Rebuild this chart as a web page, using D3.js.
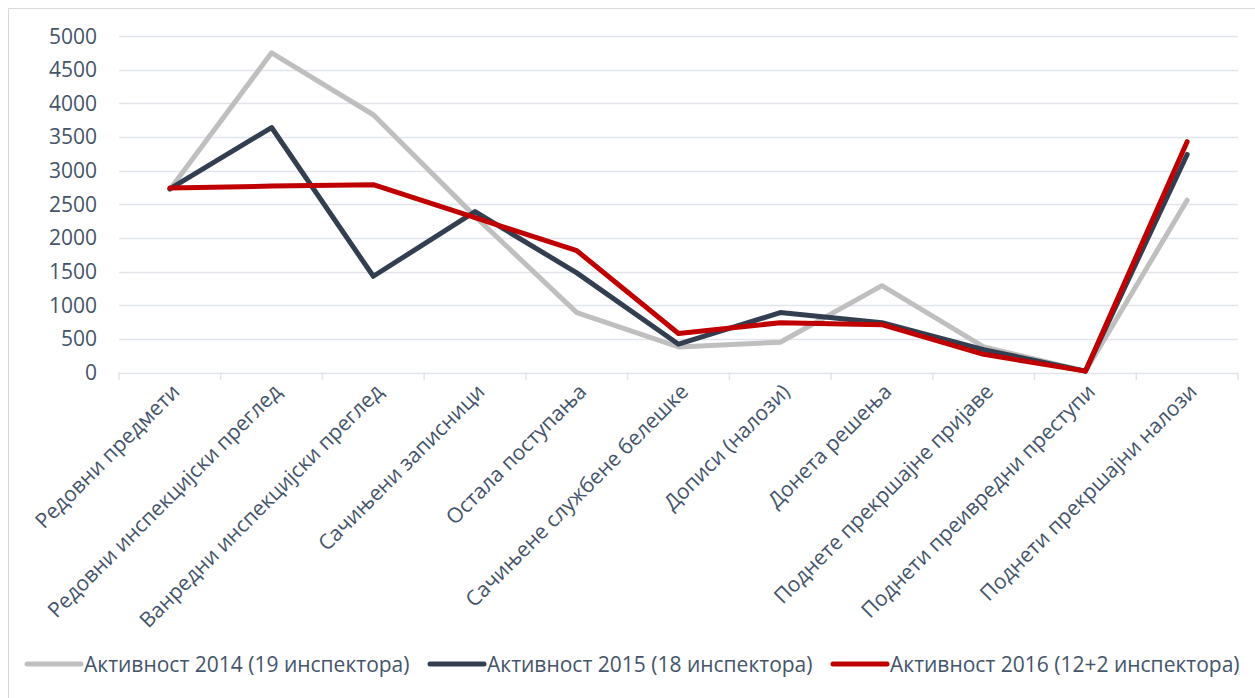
<!DOCTYPE html>
<html>
<head>
<meta charset="utf-8">
<script src="https://cdn.jsdelivr.net/npm/d3@7"></script>
<style>
  body { margin: 0; background: #fff; }
  svg { display: block; font-family: "Open Sans", sans-serif; }
</style>
</head>
<body>
<svg id="chart" width="1255" height="698"></svg>
<script>
// categories and series
var categories = [
  "Редовни предмети",
  "Редовни инспекцијски преглед",
  "Ванредни инспекцијски преглед",
  "Сачињени записници",
  "Остала поступања",
  "Сачињене службене белешке",
  "Дописи (налози)",
  "Донета решења",
  "Поднете прекршајне пријаве",
  "Поднети преивредни преступи",
  "Поднети прекршајни налози"
];
var act2014 = [2720, 4750, 3830, 2320, 890, 380, 450, 1290, 380, 20, 2560];
var act2015 = [2730, 3640, 1430, 2390, 1480, 420, 890, 740, 340, 20, 3240];
var act2016 = [2740, 2770, 2790, 2300, 1810, 580, 740, 710, 270, 20, 3430];
var seriesNames = [
  "Активност 2014 (19 инспектора)",
  "Активност 2015 (18 инспектора)",
  "Активност 2016 (12+2 инспектора)"
];
var yTicks = [0, 500, 1000, 1500, 2000, 2500, 3000, 3500, 4000, 4500, 5000];

var colors = ["#BFBFBF", "#333F50", "#C00000"];
var textColor = "#44546A";
var gridColor = "#E1E5EB";

var svg = d3.select("#chart");

// chart frame
svg.append("path")
  .attr("d", "M8.5,698 V8.5 H1255")
  .attr("fill", "none")
  .attr("stroke", "#D9D9D9")
  .attr("stroke-width", 1);

var x = d3.scaleBand().domain(categories).range([119, 1238]);
var y = d3.scaleLinear().domain([0, 5000]).range([372.5, 36]);

// gridlines
svg.append("g").selectAll("line")
  .data(yTicks)
  .enter().append("line")
  .attr("x1", 119).attr("x2", 1238)
  .attr("y1", function (d) { return Math.round(y(d)) + 0.5; })
  .attr("y2", function (d) { return Math.round(y(d)) + 0.5; })
  .attr("stroke", gridColor)
  .attr("stroke-width", 1.5);

// y labels
svg.append("g").selectAll("text")
  .data(yTicks)
  .enter().append("text")
  .attr("x", 97)
  .attr("y", function (d) { return y(d) + 7.5; })
  .attr("text-anchor", "end")
  .attr("font-size", 21)
  .attr("fill", textColor)
  .text(function (d) { return d; });

// x tick marks at category boundaries
var bounds = categories.map(function (c) { return x(c); }).concat([x.range()[1]]);
svg.append("g").selectAll("line")
  .data(bounds)
  .enter().append("line")
  .attr("x1", function (d) { return d; })
  .attr("x2", function (d) { return d; })
  .attr("y1", 372.5).attr("y2", 380)
  .attr("stroke", gridColor)
  .attr("stroke-width", 1.5);

// x labels, rotated
svg.append("g").selectAll("text")
  .data(categories)
  .enter().append("text")
  .attr("transform", function (d) {
    var cx = x(d) + x.bandwidth() / 2 + 11;
    return "translate(" + cx + ",393) rotate(-45)";
  })
  .attr("text-anchor", "end")
  .attr("font-size", 21)
  .attr("fill", textColor)
  .text(function (d) { return d; });

// lines
var line = d3.line()
  .x(function (d, i) { return x(categories[i]) + x.bandwidth() / 2; })
  .y(function (d) { return y(d); });

var allSeries = [act2014, act2015, act2016];
svg.append("g").selectAll("path")
  .data(allSeries)
  .enter().append("path")
  .attr("d", line)
  .attr("fill", "none")
  .attr("stroke", function (d, i) { return colors[i]; })
  .attr("stroke-width", 5)
  .attr("stroke-linejoin", "round")
  .attr("stroke-linecap", "round");

// legend
var legendX = [27, 430, 833];
var leg = svg.append("g").selectAll("g")
  .data(seriesNames)
  .enter().append("g")
  .attr("transform", function (d, i) { return "translate(" + legendX[i] + ",664)"; });

leg.append("line")
  .attr("x1", 0).attr("x2", 54)
  .attr("y1", 0).attr("y2", 0)
  .attr("stroke", function (d, i) { return colors[i]; })
  .attr("stroke-width", 5)
  .attr("stroke-linecap", "round");

leg.append("text")
  .attr("x", 57)
  .attr("y", 7.5)
  .attr("font-size", 21)
  .attr("fill", textColor)
  .text(function (d) { return d; });
</script>
</body>
</html>
